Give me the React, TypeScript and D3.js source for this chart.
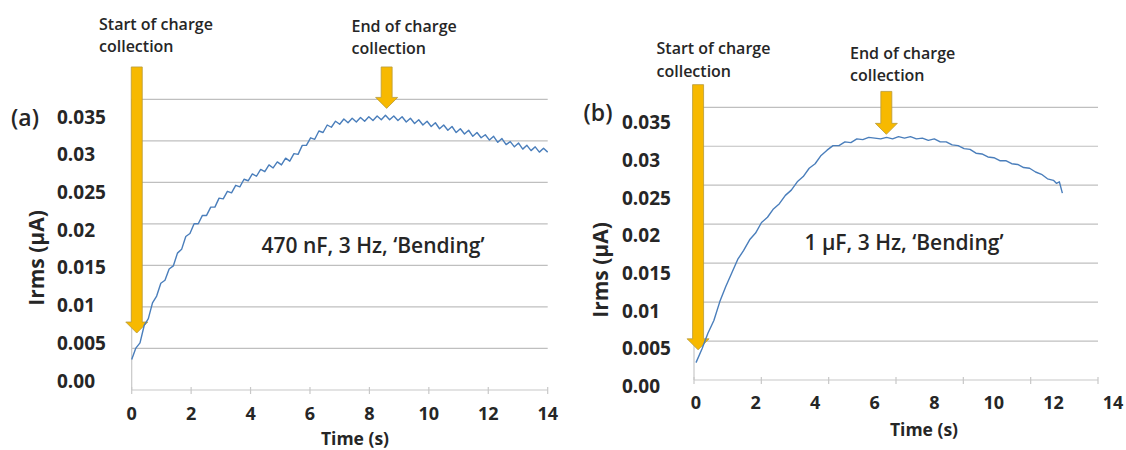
import * as d3 from 'd3';

// ── Data (Irms in nA, i.e. 0.001 µA units; time in s) ──

const TIME_TICKS = [0, 2, 4, 6, 8, 10, 12, 14];
const IRMS_TICKS = [0, 5, 10, 15, 20, 25, 30, 35];
const IRMS_TICK_LABELS = ['0.00', '0.005', '0.01', '0.015', '0.02', '0.025', '0.03', '0.035'];

// (a) 470 nF, 3 Hz — ripple from the bending cycle
const seriesA: [number, number][] = [
  [0, 2.8], [0.14, 4.3], [0.28, 5.0], [0.42, 7.3], [0.56, 8.2], [0.7, 10.3], [0.84, 11.2],
  [0.98, 12.9], [1.12, 13.3], [1.26, 14.8], [1.4, 15.2], [1.54, 16.9], [1.68, 17.4],
  [1.82, 19.1], [1.96, 19.5], [2.1, 20.8], [2.24, 20.8], [2.38, 21.9], [2.52, 21.9],
  [2.66, 23.0], [2.8, 23.0], [2.94, 24.2], [3.08, 24.1], [3.22, 25.1], [3.36, 24.9],
  [3.5, 25.9], [3.64, 25.7], [3.78, 26.7], [3.92, 26.5], [4.06, 27.4], [4.2, 27.1],
  [4.34, 28.0], [4.48, 27.7], [4.62, 28.6], [4.76, 28.2], [4.9, 29.0], [5.04, 28.6],
  [5.18, 29.5], [5.32, 29.1], [5.46, 30.1], [5.6, 30.0], [5.74, 31.2], [5.88, 31.2],
  [6.02, 32.2], [6.16, 32.0], [6.3, 33.1], [6.44, 32.9], [6.58, 33.9], [6.72, 33.6],
  [6.86, 34.4], [7.0, 34.0], [7.14, 34.7], [7.28, 34.2], [7.42, 34.8], [7.56, 34.3],
  [7.7, 34.9], [7.84, 34.4], [7.98, 35.0], [8.12, 34.5], [8.26, 35.1], [8.4, 34.6],
  [8.54, 35.2], [8.68, 34.6], [8.82, 35.1], [8.96, 34.5], [9.1, 35.0], [9.24, 34.3],
  [9.38, 34.8], [9.52, 34.1], [9.66, 34.6], [9.8, 33.9], [9.94, 34.4], [10.08, 33.7],
  [10.22, 34.2], [10.36, 33.4], [10.5, 33.9], [10.64, 33.2], [10.78, 33.7], [10.92, 32.9],
  [11.06, 33.4], [11.2, 32.7], [11.34, 33.2], [11.48, 32.4], [11.62, 32.9], [11.76, 32.2],
  [11.9, 32.6], [12.04, 31.9], [12.18, 32.4], [12.32, 31.6], [12.46, 32.1], [12.6, 31.3],
  [12.74, 31.7], [12.88, 31.0], [13.02, 31.5], [13.16, 30.7], [13.3, 31.2], [13.44, 30.5],
  [13.58, 31.0], [13.72, 30.3], [13.86, 30.8], [14.0, 30.3],
];

// (b) 1 µF, 3 Hz
const seriesB: [number, number][] = [
  [0, 3.1], [0.2, 4.9], [0.4, 7.0], [0.6, 8.7], [0.8, 11.2], [1.0, 13.2], [1.2, 15.0],
  [1.4, 16.8], [1.6, 18.0], [1.8, 19.4], [2.0, 20.3], [2.2, 21.7], [2.4, 22.4], [2.6, 23.5],
  [2.8, 24.2], [3.0, 25.3], [3.2, 26.0], [3.4, 27.1], [3.6, 27.8], [3.8, 28.9], [4.0, 29.5],
  [4.2, 30.6], [4.4, 31.3], [4.6, 31.9], [4.8, 31.9], [5.0, 32.4], [5.2, 32.3], [5.4, 32.8],
  [5.6, 32.7], [5.8, 33.0], [6.0, 32.9], [6.2, 32.8], [6.4, 33.0], [6.6, 32.8], [6.8, 33.1],
  [7.0, 32.9], [7.2, 33.1], [7.4, 32.8], [7.6, 32.9], [7.8, 32.6], [8.0, 32.8], [8.2, 32.4],
  [8.4, 32.4], [8.6, 32.0], [8.8, 31.9], [9.0, 31.5], [9.2, 31.4], [9.4, 30.9], [9.6, 30.8],
  [9.8, 30.4], [10.0, 30.3], [10.2, 29.9], [10.4, 29.9], [10.6, 29.5], [10.8, 29.4],
  [11.0, 29.0], [11.2, 28.9], [11.4, 28.4], [11.6, 28.1], [11.8, 27.5], [12.0, 27.3],
  [12.1, 26.9], [12.2, 27.1], [12.3, 25.6],
];

// charge-collection markers: time, shaft top, tip (same units as the series)
const markersA = [
  { t: 0.17, top: 41.6, tip: 6.3 },
  { t: 8.58, top: 41.6, tip: 36.1 },
];
const markersB = [
  { t: 0.07, top: 40.0, tip: 4.8 },
  { t: 6.39, top: 39.1, tip: 33.4 },
];

// ── Styling / layout ──

const FONT = "'Open Sans', 'Noto Sans', sans-serif";
const INK = '#262626';
const LINE = '#4a7ebb';
const GRID = '#bfbfbf';
const ARROW_FILL = '#f7b900';
const ARROW_EDGE = '#b89a3a';

interface Layout {
  xRange: [number, number];
  yRange: [number, number];
  gridRange: [number, number];
  axisX: [number, number];
  tickCount: number;
  yLabelX: number;
  xLabelY: number;
  xTitle: [number, number];
  yTitle: [number, number];
  tag: [number, number];
  note: [number, number];
  startText: [number, number];
  endText: [number, number];
}

const layoutA: Layout = {
  xRange: [131.7, 547.7],
  yRange: [380.5, 116.7],
  gridRange: [390, 99.3],
  axisX: [131.7, 547.7],
  tickCount: 8,
  yLabelX: 57,
  xLabelY: 413,
  xTitle: [355, 438],
  yTitle: [36, 258],
  tag: [25, 117],
  note: [373, 245],
  startText: [99, 24],
  endText: [351.5, 26],
};

const layoutB: Layout = {
  xRange: [696, 1113],
  yRange: [386, 122.3],
  gridRange: [380, 107.3],
  axisX: [694, 1098],
  tickCount: 7,
  yLabelX: 622,
  xLabelY: 402,
  xTitle: [924, 429],
  yTitle: [600, 270],
  tag: [598, 112],
  note: [904, 241.5],
  startText: [656.5, 48.3],
  endText: [850, 52.7],
};

function Arrow({ x, yTop, yTip }: { x: number; yTop: number; yTip: number }) {
  const sw = 5.5;
  const hw = 11;
  const yh = yTip - 11;
  const pts = [
    [x - sw, yTop], [x + sw, yTop], [x + sw, yh], [x + hw, yh],
    [x, yTip], [x - hw, yh], [x - sw, yh],
  ];
  return (
    <polygon
      points={pts.map((p) => p.join(',')).join(' ')}
      fill={ARROW_FILL}
      stroke={ARROW_EDGE}
      strokeWidth={0.8}
    />
  );
}

function TwoLine({ pos, lines }: { pos: [number, number]; lines: string[] }) {
  return (
    <text x={pos[0]} y={pos[1]} fontSize={16} fontWeight={600} fill={INK} dominantBaseline="central">
      {lines.map((l, i) => (
        <tspan key={i} x={pos[0]} dy={i === 0 ? 0 : 22.4}>
          {l}
        </tspan>
      ))}
    </text>
  );
}

function Panel({
  layout,
  series,
  markers,
  tag,
  note,
}: {
  layout: Layout;
  series: [number, number][];
  markers: { t: number; top: number; tip: number }[];
  tag: string;
  note: string;
}) {
  const x = d3.scaleLinear().domain([0, 14]).range(layout.xRange);
  const y = d3.scaleLinear().domain([0, 35]).range(layout.yRange);
  const grid = d3.scaleLinear().domain([0, 35]).range(layout.gridRange);
  const tickX = d3.scaleLinear().domain([0, layout.tickCount - 1]).range(layout.axisX);
  const line = d3
    .line<[number, number]>()
    .x((d) => x(d[0]))
    .y((d) => y(d[1]));

  const [ax0, ax1] = layout.axisX;

  return (
    <g fontFamily={FONT}>
      {/* gridlines */}
      {IRMS_TICKS.slice(1).map((v) => (
        <line key={v} x1={ax0} x2={ax1} y1={grid(v)} y2={grid(v)} stroke={GRID} strokeWidth={1.2} />
      ))}
      {/* axes */}
      <line x1={ax0} x2={ax0} y1={grid(0)} y2={grid(35)} stroke="#c8c8c8" strokeWidth={1.2} />
      <line x1={ax0} x2={ax1} y1={grid(0)} y2={grid(0)} stroke="#c8c8c8" strokeWidth={1.2} />
      {d3.range(layout.tickCount).map((i) => (
        <line key={i} x1={tickX(i)} x2={tickX(i)} y1={grid(0) - 3} y2={grid(0) + 4} stroke="#c8c8c8" strokeWidth={1.2} />
      ))}

      {/* y tick labels */}
      {IRMS_TICKS.map((v, i) => (
        <text key={v} x={layout.yLabelX} y={y(v)} fontSize={19} fontWeight={700} fill={INK} dominantBaseline="central">
          {IRMS_TICK_LABELS[i]}
        </text>
      ))}
      {/* x tick labels */}
      {TIME_TICKS.map((t) => (
        <text key={t} x={x(t)} y={layout.xLabelY} fontSize={18} fontWeight={700} fill={INK} textAnchor="middle" dominantBaseline="central">
          {t}
        </text>
      ))}

      <text x={layout.xTitle[0]} y={layout.xTitle[1]} fontSize={17.5} fontWeight={700} fill={INK} textAnchor="middle" dominantBaseline="central">
        Time (s)
      </text>
      <text
        transform={`translate(${layout.yTitle[0]},${layout.yTitle[1]}) rotate(-90)`}
        fontSize={21}
        fontWeight={700}
        fill={INK}
        textAnchor="middle"
        dominantBaseline="central"
      >
        Irms (µA)
      </text>
      <text x={layout.tag[0]} y={layout.tag[1]} fontSize={23} fontWeight={600} fill={INK} textAnchor="middle" dominantBaseline="central">
        {tag}
      </text>
      <text x={layout.note[0]} y={layout.note[1]} fontSize={21} fontWeight={600} fill={INK} textAnchor="middle" dominantBaseline="central">
        {note}
      </text>

      <TwoLine pos={layout.startText} lines={['Start of charge', 'collection']} />
      <TwoLine pos={layout.endText} lines={['End of charge', 'collection']} />

      {markers.map((m, i) => (
        <Arrow key={i} x={x(m.t)} yTop={y(m.top)} yTip={y(m.tip)} />
      ))}

      <path d={line(series) ?? ''} fill="none" stroke={LINE} strokeWidth={1.4} strokeLinejoin="round" />
    </g>
  );
}

export default function App() {
  return (
    <div style={{ position: 'fixed', left: 0, top: 0, width: 1126, height: 450, background: '#fff' }}>
      <svg width={1126} height={450} style={{ display: 'block' }}>
        <rect width={1126} height={450} fill="#fff" />
        <Panel layout={layoutA} series={seriesA} markers={markersA} tag="(a)" note="470 nF, 3 Hz, ‘Bending’" />
        <Panel layout={layoutB} series={seriesB} markers={markersB} tag="(b)" note="1 µF, 3 Hz, ‘Bending’" />
      </svg>
    </div>
  );
}
